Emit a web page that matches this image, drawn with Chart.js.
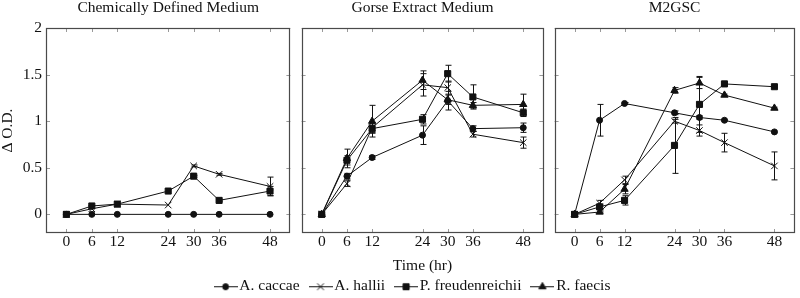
<!DOCTYPE html>
<html><head><meta charset="utf-8">
<script src="https://cdn.jsdelivr.net/npm/chart.js@4.4.1/dist/chart.umd.min.js"></script>
<style>
html,body{margin:0;padding:0;background:#fff;}
#wrap{position:relative;width:800px;height:298px;overflow:hidden;background:#fff;}
canvas{position:absolute;}
#err{position:absolute;left:0;top:0;font:10px monospace;color:red;}
</style></head><body>
<div id="wrap">
<canvas id="c1" width="296" height="298" style="left:0px;top:0px;width:296px;height:298px"></canvas>
<canvas id="c2" width="253" height="298" style="left:296px;top:0px;width:253px;height:298px"></canvas>
<canvas id="c3" width="251" height="298" style="left:549px;top:0px;width:251px;height:298px"></canvas>
<canvas id="cl" width="800" height="304" style="left:0px;top:0px;width:800px;height:304px"></canvas>
<div id="err"></div>
</div>
<script>
// ---------- data ----------
const timePoints = [0, 6, 12, 24, 30, 36, 48];
const xTickValues = [0, 6, 12, 24, 30, 36, 48];
const yTickValues = [0, 0.5, 1, 1.5, 2];
const seriesNames = ['A. caccae', 'A. hallii', 'P. freudenreichii', 'R. faecis'];
const panelTitles = ['Chemically Defined Medium', 'Gorse Extract Medium', 'M2GSC'];

// Chemically Defined Medium
const cdmCaccae     = [0, 0, 0, 0, 0, 0, 0];
const cdmHallii     = [0, 0.06, 0.11, 0.10, 0.52, 0.43, 0.30];
const cdmFreud      = [0, 0.09, 0.11, 0.25, 0.41, 0.15, 0.25];
const cdmFaecis     = [];
const cdmCaccaeErr  = [0, 0, 0, 0, 0, 0, 0];
const cdmHalliiErr  = [0, 0, 0, 0, 0.01, 0.01, 0.10];
const cdmFreudErr   = [0, 0, 0, 0, 0.01, 0.01, 0.05];
const cdmFaecisErr  = [];

// Gorse Extract Medium
const gemCaccae     = [0, 0.41, 0.61, 0.85, 1.22, 0.92, 0.93];
const gemHallii     = [0, 0.33, 0.93, 1.39, 1.36, 0.86, 0.77];
const gemFreud      = [0, 0.58, 0.92, 1.02, 1.51, 1.26, 1.09];
const gemFaecis     = [0, 0.60, 1.00, 1.44, 1.23, 1.17, 1.18];
const gemCaccaeErr  = [0, 0.03, 0.02, 0.10, 0.10, 0.03, 0.05];
const gemHalliiErr  = [0, 0.03, 0.05, 0.12, 0.07, 0.03, 0.06];
const gemFreudErr   = [0, 0.05, 0.05, 0.05, 0.09, 0.13, 0.04];
const gemFaecisErr  = [0, 0.10, 0.17, 0.10, 0.05, 0.03, 0.11];

// M2GSC
const m2Caccae      = [0, 1.01, 1.19, 1.09, 1.04, 1.01, 0.885];
const m2Hallii      = [0, 0.12, 0.37, 1.00, 0.90, 0.77, 0.52];
const m2Freud       = [0, 0.08, 0.15, 0.74, 1.18, 1.40, 1.37];
const m2Faecis      = [0, 0.025, 0.27, 1.33, 1.41, 1.28, 1.14];
const m2CaccaeErr   = [0, 0.17, 0.01, 0.02, 0.02, 0.01, 0.01];
const m2HalliiErr   = [0, 0.03, 0.04, 0.02, 0.06, 0.10, 0.15];
const m2FreudErr    = [0, 0.03, 0.05, 0.30, 0.30, 0.01, 0.01];
const m2FaecisErr   = [0, 0.01, 0.05, 0.03, 0.06, 0.01, 0.01];

// ---------- styles ----------
const FONT = "'Liberation Serif', 'Times New Roman', serif";
const INK = '#111';
const markerStyles = [
  {pointStyle: 'circle', pointRadius: 3},
  {pointStyle: 'crossRot', pointRadius: 4.6},
  {pointStyle: 'rect', pointRadius: 4.3},
  {pointStyle: 'triangle', pointRadius: 4.2}
];

function makeDatasets(vals, errs) {
  return seriesNames.map((name, i) => ({
    label: name,
    data: vals[i].map((v, j) => ({x: timePoints[j], y: v})),
    errs: errs[i],
    borderColor: INK,
    backgroundColor: INK,
    borderWidth: 1,
    pointBackgroundColor: INK,
    pointBorderColor: INK,
    pointBorderWidth: 1,
    pointStyle: markerStyles[i].pointStyle,
    pointRadius: markerStyles[i].pointRadius,
    tension: 0,
    fill: false,
    order: 3 - i
  }));
}

const pgfPlugin = {
  id: 'pgfFrame',
  beforeDatasetsDraw(chart) {
    const {ctx, chartArea: a} = chart;
    const xs = chart.scales.x, ys = chart.scales.y;
    ctx.save();
    ctx.strokeStyle = '#9a9a9a';
    ctx.lineWidth = 1;
    ctx.beginPath();
    xTickValues.forEach(v => {
      const x = Math.round(xs.getPixelForValue(v)) + 0.5;
      ctx.moveTo(x, a.bottom); ctx.lineTo(x, a.bottom - 4);
      ctx.moveTo(x, a.top); ctx.lineTo(x, a.top + 4);
    });
    yTickValues.forEach(v => {
      const y = Math.round(ys.getPixelForValue(v)) + 0.5;
      ctx.moveTo(a.left, y); ctx.lineTo(a.left + 4, y);
      ctx.moveTo(a.right, y); ctx.lineTo(a.right - 4, y);
    });
    ctx.stroke();
    ctx.restore();
  },
  afterDatasetsDraw(chart) {
    const {ctx, chartArea: a} = chart;
    const xs = chart.scales.x, ys = chart.scales.y;
    ctx.save();
    ctx.strokeStyle = INK;
    ctx.lineWidth = 1;
    chart.data.datasets.forEach(ds => {
      ds.data.forEach((p, j) => {
        const e = ds.errs[j];
        if (!e) return;
        const x = Math.round(xs.getPixelForValue(p.x)) + 0.5;
        const y1 = ys.getPixelForValue(p.y + e), y2 = ys.getPixelForValue(p.y - e);
        ctx.beginPath();
        ctx.moveTo(x, y1); ctx.lineTo(x, y2);
        ctx.moveTo(x - 3, y1); ctx.lineTo(x + 3, y1);
        ctx.moveTo(x - 3, y2); ctx.lineTo(x + 3, y2);
        ctx.stroke();
      });
    });
    // frame
    ctx.strokeStyle = '#4a4a4a';
    ctx.lineWidth = 1.2;
    ctx.strokeRect(Math.round(a.left) + 0.5, Math.round(a.top) + 0.5,
                   Math.round(a.right - a.left) - 1, Math.round(a.bottom - a.top) - 1);
    ctx.restore();
  }
};

function makePanel(id, title, vals, errs, pad, showY, showXTitle) {
  return new Chart(document.getElementById(id), {
    type: 'line',
    data: {datasets: makeDatasets(vals, errs)},
    plugins: [pgfPlugin],
    options: {
      responsive: false,
      animation: false,
      devicePixelRatio: 1,
      layout: {padding: pad},
      plugins: {
        legend: {display: false},
        tooltip: {enabled: false},
        title: {
          display: true, text: title, fullSize: false,
          color: INK, font: {family: FONT, size: 15.5, weight: 'normal', lineHeight: 1},
          padding: {top: 0, bottom: 12.5}
        }
      },
      scales: {
        x: {
          type: 'linear', min: -4.8, max: 52.8,
          grid: {display: false, drawTicks: false},
          border: {display: false},
          afterBuildTicks: s => { s.ticks = xTickValues.map(v => ({value: v})); },
          afterFit: s => { s.height = 65; },
          ticks: {autoSkip: false, maxRotation: 0, padding: 1, color: INK,
                  font: {family: FONT, size: 15.5, lineHeight: 1},
                  callback: v => String(v)},
          title: {display: showXTitle, text: 'Time (hr)', color: INK,
                  font: {family: FONT, size: 15.5, lineHeight: 1},
                  padding: {top: 0, bottom: 24}}
        },
        y: {
          type: 'linear', min: -0.2, max: 2,
          display: showY,
          grid: {display: false, drawTicks: false},
          border: {display: false},
          afterBuildTicks: s => { s.ticks = yTickValues.map(v => ({value: v})); },
          afterFit: s => { s.width = showY ? 46 : 0; },
          ticks: {padding: 4, color: INK, font: {family: FONT, size: 15.5, lineHeight: 1},
                  callback: v => String(v)},
          title: {display: true, text: 'Δ O.D.', color: INK,
                  font: {family: FONT, size: 15.5, lineHeight: 1},
                  padding: {top: 0, bottom: 0}}
        }
      }
    }
  });
}

makePanel('c1', panelTitles[0],
  [cdmCaccae, cdmHallii, cdmFreud, cdmFaecis],
  [cdmCaccaeErr, cdmHalliiErr, cdmFreudErr, cdmFaecisErr],
  {left: 0, right: 3, top: 0, bottom: 0}, true, false);
makePanel('c2', panelTitles[1],
  [gemCaccae, gemHallii, gemFreud, gemFaecis],
  [gemCaccaeErr, gemHalliiErr, gemFreudErr, gemFaecisErr],
  {left: 3, right: 4, top: 0, bottom: 0}, false, true);
makePanel('c3', panelTitles[2],
  [m2Caccae, m2Hallii, m2Freud, m2Faecis],
  [m2CaccaeErr, m2HalliiErr, m2FreudErr, m2FaecisErr],
  {left: 3, right: 3, top: 0, bottom: 0}, false, false);

// ---------- legend ----------
function legendIcon(i) {
  const c = document.createElement('canvas');
  c.width = 24; c.height = 12;
  const g = c.getContext('2d');
  g.strokeStyle = INK; g.fillStyle = INK; g.lineWidth = 1;
  g.beginPath(); g.moveTo(0, 6.5); g.lineTo(24, 6.5); g.stroke();
  const cx = 12, cy = 6.5, r = markerStyles[i].pointRadius;
  g.beginPath();
  if (i === 0) { g.arc(cx, cy, r, 0, Math.PI * 2); g.fill(); g.stroke(); }
  else if (i === 1) { const d = r * Math.SQRT1_2; g.moveTo(cx - d, cy - d); g.lineTo(cx + d, cy + d); g.moveTo(cx - d, cy + d); g.lineTo(cx + d, cy - d); g.stroke(); }
  else if (i === 2) { const s = r * Math.SQRT1_2; g.rect(cx - s, cy - s, 2 * s, 2 * s); g.fill(); g.stroke(); }
  else { g.moveTo(cx, cy - r); g.lineTo(cx + r * 0.866, cy + r * 0.5); g.lineTo(cx - r * 0.866, cy + r * 0.5); g.closePath(); g.fill(); g.stroke(); }
  return c;
}

try {
  const legendIcons = seriesNames.map((n, i) => legendIcon(i));
  new Chart(document.getElementById('cl'), {
    type: 'line',
    data: {datasets: seriesNames.map(n => ({label: n, data: []}))},
    options: {
      responsive: false, animation: false, devicePixelRatio: 1,
      layout: {padding: {top: 0, left: 30, right: 0, bottom: 0}},
      scales: {x: {display: false}, y: {display: false}},
      plugins: {
        tooltip: {enabled: false},
        title: {display: false},
        legend: {
          display: true, position: 'bottom', align: 'center',
          labels: {
            usePointStyle: true, pointStyleWidth: 12, padding: 15,
            color: INK, font: {family: FONT, size: 15.5, lineHeight: 1},
            generateLabels: chart => seriesNames.map((n, i) => ({
              text: n, pointStyle: legendIcons[i], fillStyle: INK, strokeStyle: INK,
              lineWidth: 0, hidden: false, datasetIndex: i, fontColor: INK
            }))
          }
        }
      }
    }
  });
} catch (e) {
  document.getElementById('err').textContent = String(e && e.stack || e);
}
</script>
</body></html>
